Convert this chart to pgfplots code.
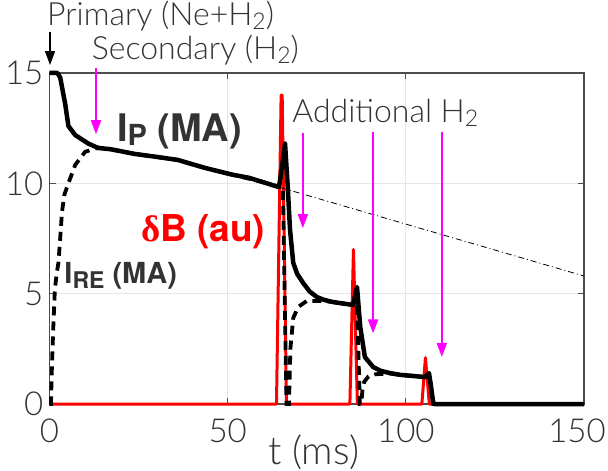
\documentclass[border=0pt]{standalone}
\usepackage{fontspec}
\setmainfont{Lato Light}
\newfontfamily\heros{TeX Gyre Heros}
\newfontfamily\symgreek{Liberation Serif}
\usepackage{pgfplots}
\pgfplotsset{compat=1.18}
\usetikzlibrary{arrows.meta}
\definecolor{txt}{HTML}{333333}
\definecolor{mag}{HTML}{FF00FF}
\definecolor{gridc}{HTML}{E6E6E6}
\newcommand\sub[1]{\raisebox{-0.12em}{\scalebox{0.72}{#1}}}
\begin{document}
\begin{tikzpicture}
\begin{axis}[
  at={(0pt,0pt)}, anchor=south west,
  scale only axis, width=534.5pt, height=331pt,
  xmin=0, xmax=150, ymin=0, ymax=15,
  xtick={0,50,100,150}, ytick={0,5,10,15},
  xticklabels={0,50,100,150\kern14pt},
  xtick pos=both, ytick pos=both,
  xticklabel pos=bottom, yticklabel pos=left,
  grid=major, major grid style={gridc, line width=1.2pt},
  axis line style={black!70, line width=1.2pt},
  tick align=inside, major tick length=6pt,
  tick style={black!70, line width=1.2pt},
  /pgf/number format/assume math mode=true,
  ticklabel style={font=\fontsize{33}{33}\selectfont, text=txt, inner sep=0pt},
  xticklabel style={anchor=north, yshift=-15pt},
  yticklabel style={anchor=east, xshift=-6pt},
  xlabel={t (ms)},
  xlabel style={font=\fontsize{39}{39}\selectfont, text=txt, inner sep=0pt,
    at={(axis description cs:0.5,0)}, anchor=base, xshift=-3pt, yshift=-60.5pt},
  clip=false,
]
% delta B (red)
\addplot[red, line width=3pt, line join=round] coordinates {
 (0,0) (63.7,0) (65.0,14.0) (65.3,14.0) (66.5,0) (84.3,0) (85.3,7.0) (86.4,0)
 (104.5,0) (105.5,2.1) (106.6,0) (150,0)};
% I_RE (dashed)
\addplot[black, line width=3.8pt, dash pattern=on 9pt off 6pt] coordinates {
 (0,0) (0.4,0) (0.7,1.8) (1.07,3.5) (1.5,5.17) (2.0,5.9) (2.5,6.4) (3.0,7.5) (3.5,8.7)
 (4.2,9.5) (5.3,10.0) (7.2,10.83) (10,11.43) (13.7,11.62) (17,11.55) (24,11.33)
 (36,11.06) (43.6,10.7) (51.1,10.4) (59.6,10.07) (64.4,9.83) (65.5,9.75) (66.5,0)
 (67.2,0) (67.6,2.5) (68.4,3.9) (69.8,4.4) (72.2,4.67) (76.8,4.67) (79.6,4.62)
 (85.2,4.49) (86.3,4.45) (87.1,0) (87.5,0) (87.8,0.6) (88.3,1.0) (89.5,1.25)
 (91.5,1.35) (95.6,1.38) (98.5,1.32) (102,1.27) (105.4,1.22) (106.8,1.2) (107.7,0) (150,0)};
% I_P (solid)
\addplot[black, line width=4.5pt, line join=round] coordinates {
 (0,15) (2.2,15) (3.0,14.8) (3.7,14.2) (4.4,13.6) (5.3,12.6) (7.2,12.19) (10.9,11.8)
 (13.7,11.6) (17,11.55) (24,11.33) (30,11.2) (36,11.06) (43.6,10.7) (51.1,10.4)
 (56,10.25) (59.6,10.07) (64.4,9.83) (65.3,10.8) (66.1,11.8) (66.8,10.0) (67.5,7.9)
 (68.4,6.4) (69.5,5.9) (71.2,5.48) (73,5.1) (75,4.85) (77,4.72) (79.6,4.62)
 (82.5,4.55) (85.2,4.49) (86.3,5.3) (87.2,3.5) (88.5,2.13) (90.8,1.68) (93,1.5)
 (95.6,1.4) (98.5,1.32) (102,1.27) (105.4,1.22) (106.5,1.4) (107.7,0.05) (108,0) (150,0)};
% extrapolation (dash-dot)
\addplot[black, line width=0.8pt, dash pattern=on 6pt off 3pt on 1pt off 3pt] coordinates {
 (65,9.8) (150,5.8)};
% arrows
\draw[black, line width=1.5pt, -{Triangle[length=14pt,width=10pt]}] (axis cs:0.15,16.86) -- (axis cs:0.15,15.36);
\draw[mag, line width=1.8pt, -{Triangle[length=14pt,width=10pt]}] (axis cs:13.05,15.22) -- (axis cs:13.05,12.23);
\draw[mag, line width=1.8pt, -{Triangle[length=14pt,width=10pt]}] (axis cs:71.1,12.3) -- (axis cs:71.1,7.97);
\draw[mag, line width=1.8pt, -{Triangle[length=14pt,width=10pt]}] (axis cs:90.8,12.34) -- (axis cs:90.8,3.2);
\draw[mag, line width=1.8pt, -{Triangle[length=14pt,width=10pt]}] (axis cs:110.1,12.34) -- (axis cs:110.1,2.13);
% labels
\node[anchor=base west, inner sep=0pt, text=txt, font=\fontsize{32}{32}\selectfont] at (axis cs:-0.7,17.13) {Primary (Ne+H\sub{2})};
\node[anchor=base west, inner sep=0pt, text=txt, font=\fontsize{32}{32}\selectfont] at (axis cs:11.84,15.6) {Secondary (H\sub{2})};
\node[anchor=base west, inner sep=0pt, text=txt, font=\fontsize{32}{32}\selectfont] at (axis cs:68.1,12.75) {Additional H\sub{2}};
\node[anchor=base west, inner sep=0pt, text=txt, font=\heros\bfseries\fontsize{38}{38}\selectfont] at (axis cs:18.9,11.89) {I\raisebox{-4pt}{\fontsize{29}{29}\selectfont P} (MA)};
\node[anchor=base west, inner sep=0pt, text=red, font=\heros\bfseries\fontsize{37}{37}\selectfont] at (axis cs:25.7,7.35) {{\symgreek δ}B (au)};
\node[anchor=base west, inner sep=0pt, text=txt, font=\heros\bfseries\fontsize{29}{29}\selectfont] at (axis cs:4.15,5.44) {I\raisebox{-5pt}{\fontsize{23}{23}\selectfont RE} (MA)};
\end{axis}
\pgfresetboundingbox
\path[use as bounding box] (-49.5pt,-67pt) rectangle (558.5pt,404pt);
\end{tikzpicture}
\end{document}
